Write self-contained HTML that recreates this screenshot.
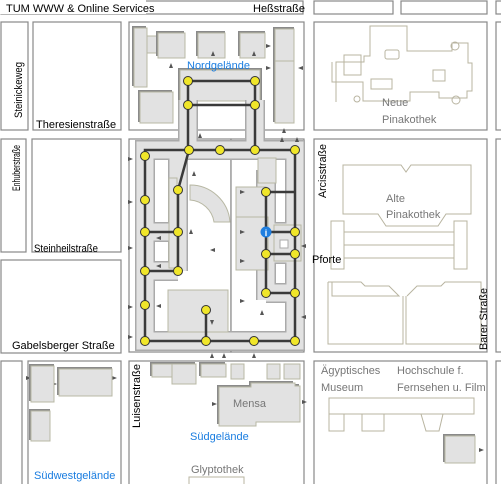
<!DOCTYPE html>
<html><head><meta charset="utf-8"><style>
html,body{margin:0;padding:0;background:#fff;}
svg{display:block;font-family:"Liberation Sans",sans-serif;}
.b{fill:#fff;stroke:#888;stroke-width:1.2}
.g{fill:#e2e2e2;stroke:#b8b8a4;stroke-width:1}
.s{fill:#8a8a8a}
.o{fill:none;stroke:#b8b4a0;stroke-width:1}
.st{font-size:11px;fill:#000}
.bl{font-size:11px;fill:#1a7de0}
.gr{font-size:11px;fill:#777}
.n{fill:#f0e62a;stroke:#333;stroke-width:1}
.a{fill:#555}
</style></head><body>
<svg width="501" height="484" viewBox="0 0 501 484">
<rect class="b" x="1" y="1" width="302" height="13"/>
<rect fill="#fff" x="0" y="0" width="146" height="14"/>
<rect class="b" x="314" y="1" width="79" height="13"/>
<rect class="b" x="401" y="1" width="86" height="13"/>
<rect class="b" x="496" y="1" width="8" height="13"/>
<rect class="b" x="1" y="22" width="27" height="108"/>
<rect class="b" x="33" y="22" width="88" height="108"/>
<rect class="b" x="129" y="22" width="175" height="108"/>
<rect class="b" x="314" y="22" width="173" height="108"/>
<rect class="b" x="496" y="22" width="8" height="108"/>
<rect class="b" x="1" y="139" width="25" height="113"/>
<rect class="b" x="32" y="139" width="89" height="113"/>
<rect class="b" x="1" y="260" width="120" height="93"/>
<rect class="b" x="129" y="139" width="102" height="213"/>
<rect class="b" x="231" y="139" width="73" height="213"/>
<rect class="b" x="314" y="139" width="173" height="213"/>
<rect class="b" x="496" y="139" width="8" height="213"/>
<rect class="b" x="1" y="361" width="21" height="125"/>
<rect class="b" x="28" y="361" width="93" height="125"/>
<rect class="b" x="129" y="361" width="175" height="125"/>
<rect class="b" x="314" y="361" width="173" height="125"/>
<rect class="b" x="496" y="361" width="8" height="125"/>

<rect class="s" x="132" y="26" width="14" height="60"/><rect class="g" x="134" y="28" width="13" height="59"/>
<rect class="g" x="147" y="36" width="10" height="17"/>
<rect class="s" x="156" y="31" width="28" height="25"/><rect class="g" x="158" y="33" width="27" height="25"/>
<rect class="s" x="196" y="31" width="29" height="25"/><rect class="g" x="198" y="33" width="27" height="25"/>
<rect class="s" x="238" y="31" width="27" height="25"/><rect class="g" x="240" y="33" width="25" height="25"/>
<rect class="s" x="273" y="27" width="21" height="95"/><rect class="g" x="275" y="29" width="19" height="94"/>
<line x1="275" y1="61" x2="294" y2="61" stroke="#b8b8a4"/>
<rect class="s" x="138" y="90" width="34" height="32"/><rect class="g" x="140" y="92" width="33" height="31"/>
<rect class="s" x="178" y="68" width="84" height="32"/><rect class="g" x="180" y="70" width="80" height="31"/>
<g fill="none" stroke-linejoin="miter">
<path d="M188 100V150M255 100V150M145 150H295V341H145ZM145 232H178M145 271H178M178 150V271M266 170V300M266 232H295M266 254H295M266 293H295M206 300V341" stroke="#aaa" stroke-width="20"/>
<path d="M188 100V150M255 100V150M145 150H295V341H145ZM145 232H178M145 271H178M178 150V271M266 170V300M266 232H295M266 254H295M266 293H295M206 300V341" stroke="#e2e2e2" stroke-width="17"/>
</g>
<rect class="g" x="236" y="187" width="30" height="45"/>
<rect class="g" x="236" y="217" width="32" height="53"/>
<rect class="g" x="168" y="290" width="60" height="42"/>
<rect class="g" x="258" y="158" width="18" height="25"/>
<rect class="g" x="274" y="225" width="27" height="36"/>
<rect fill="#fff" stroke="#aaa" x="280" y="240" width="8" height="8"/>
<path d="M190 185 A40 40 0 0 1 230 222 L214 222 A26 26 0 0 0 190 200Z" class="g"/>
<rect class="g" x="169" y="178" width="8" height="90"/>
<g stroke="#3a3a3a" stroke-width="2.5" fill="none">
<path d="M188 81H255V105H188ZM188 81V150M255 81V150"/>
<path d="M145 150H295V341H145Z"/>
<path d="M189 150L178 190V271M145 232H178M145 271H178"/>
<path d="M206 310V341"/>
<path d="M295 192H266V293M266 232H295M266 254H295M266 293H295"/>
</g>
<g class="n">
<circle cx="188" cy="81" r="4.5"/><circle cx="255" cy="81" r="4.5"/><circle cx="188" cy="105" r="4.5"/><circle cx="255" cy="105" r="4.5"/>
<circle cx="189" cy="150" r="4.5"/><circle cx="220" cy="150" r="4.5"/><circle cx="255" cy="150" r="4.5"/><circle cx="295" cy="150" r="4.5"/>
<circle cx="145" cy="156" r="4.5"/><circle cx="145" cy="200" r="4.5"/><circle cx="178" cy="190" r="4.5"/>
<circle cx="145" cy="232" r="4.5"/><circle cx="178" cy="232" r="4.5"/>
<circle cx="145" cy="271" r="4.5"/><circle cx="178" cy="271" r="4.5"/>
<circle cx="145" cy="305" r="4.5"/>
<circle cx="145" cy="341" r="4.5"/><circle cx="206" cy="341" r="4.5"/><circle cx="254" cy="341" r="4.5"/><circle cx="295" cy="341" r="4.5"/>
<circle cx="206" cy="310" r="4.5"/>
<circle cx="266" cy="192" r="4.5"/><circle cx="295" cy="232" r="4.5"/>
<circle cx="266" cy="254" r="4.5"/><circle cx="295" cy="254" r="4.5"/>
<circle cx="266" cy="293" r="4.5"/><circle cx="295" cy="293" r="4.5"/>
</g>
<circle cx="266" cy="232" r="5.5" fill="#1f7fe0"/>
<text x="266" y="236" font-size="9" fill="#fff" text-anchor="middle" font-weight="bold">i</text>
<g class="a">
<path d="M171 63l-2 5h4z"/><path d="M213 51l-2 5h4z"/><path d="M254 51l-2 5h4z"/><path d="M284 128l-2 5h4z"/>
<path d="M266 44l5 2-5 2z"/><path d="M266 66l5 2-5 2z"/><path d="M303 66l-5 2 5 2z"/>
<path d="M200 133l-2 5h4z"/><path d="M282 137l-2 5h4z"/><path d="M297 137l-2 5h4z"/>
<path d="M128 157l5 2-5 2z"/><path d="M128 200l5 2-5 2z"/><path d="M128 246l5 2-5 2z"/><path d="M128 305l5 2-5 2z"/><path d="M128 335l5 2-5 2z"/>
<path d="M194 171l-2 5h4z"/><path d="M191 229l-2 5h4z"/><path d="M156 238l5-2v4z"/><path d="M156 266l5-2v4z"/><path d="M156 306l5-2v4z"/>
<path d="M210 250l5-2v4z"/><path d="M240 190l5 2-5 2z"/><path d="M240 230l5 2-5 2z"/><path d="M240 259l5 2-5 2z"/><path d="M240 299l5 2-5 2z"/>
<path d="M301 246l5-2v4z"/><path d="M301 317l5-2v4z"/><path d="M262 310l-2 5h4z"/><path d="M212 325l-2-5h4z"/>
<path d="M212 353l-2 5h4z"/><path d="M224 353l-2 5h4z"/><path d="M254 353l-2 5h4z"/>
<path d="M26 376l5 2-5 2z"/><path d="M52 382l5 2-5 2z"/><path d="M117 378l-5-2v4z"/>
<path d="M212 402l5 2-5 2z"/><path d="M307 402l-5-2v4z"/><path d="M484 450l-5-2v4z"/>
</g>
<rect class="s" x="29" y="364" width="25" height="37"/><rect class="g" x="31" y="366" width="23" height="36"/>
<rect class="s" x="57" y="367" width="55" height="28"/><rect class="g" x="59" y="369" width="53" height="27"/>
<rect class="s" x="29" y="409" width="21" height="31"/><rect class="g" x="31" y="411" width="19" height="30"/>
<rect class="s" x="150" y="362" width="45" height="14"/><rect class="g" x="152" y="364" width="20" height="13"/><rect class="g" x="172" y="364" width="24" height="20"/>
<rect class="s" x="199" y="362" width="26" height="14"/><rect class="g" x="201" y="364" width="25" height="13"/>
<rect class="g" x="231" y="364" width="13" height="15"/><rect class="g" x="267" y="364" width="13" height="15"/><rect class="g" x="284" y="364" width="16" height="15"/>
<path class="s" d="M217 385h32v-4h44v3h6v36h-44v4h-38z"/><path class="g" d="M219 387h32v-4h44v3h5v36h-44v4h-37z"/>
<rect class="s" x="443" y="434" width="32" height="28"/><rect class="g" x="445" y="436" width="30" height="27"/>
<g class="o"><rect x="329" y="398" width="145" height="16"/><rect x="329" y="414" width="15" height="17"/><rect x="362" y="414" width="22" height="17"/><path d="M421 414l5 17h13l4-17"/><rect x="189" y="477" width="55" height="10"/></g>
<g class="o">
<path d="M336 102V62h28V56h6V26h37v25h45V43h16v20h4v28h-5V98h-28v-6h-29v9H363V82h-31V62"/>
<rect x="385" y="50" width="14" height="9" rx="2"/><rect x="371" y="79" width="21" height="10"/><rect x="433" y="70" width="12" height="11"/>
<circle cx="455" cy="46" r="4"/><circle cx="456" cy="100" r="4"/><circle cx="357" cy="99" r="3"/>
<rect x="344" y="55" width="17" height="20"/>
<path d="M343 214V165h58l5 7 5-7h60v49h-25l-8 12h-52l-8-12z"/>
<path d="M331 221h13v48h-13zM454 221h13v48h-13zM344 232h110M344 245h110M344 258h110"/>
<path d="M328 282h33l4 4h24l10 10h-67v-14zM328 282v62h75V296"/>
<path d="M406 296v48h75v-62h-36l-4 4h-24l-10 10"/>
</g>
<text class="st" x="6" y="12">TUM WWW &amp; Online Services</text>
<text class="st" x="253" y="12">Heßstraße</text>
<text class="st" x="22" y="118" transform="rotate(-90 22 118)" textLength="56" lengthAdjust="spacingAndGlyphs">Steinickeweg</text>
<text class="st" x="36" y="128">Theresienstraße</text>
<text class="st" x="20" y="191" transform="rotate(-90 20 191)" textLength="46" lengthAdjust="spacingAndGlyphs">Enhuberstraße</text>
<text class="st" x="34" y="252" textLength="64" lengthAdjust="spacingAndGlyphs">Steinheilstraße</text>
<text class="st" x="12" y="349">Gabelsberger Straße</text>
<text class="st" x="140" y="428" transform="rotate(-90 140 428)" textLength="64" lengthAdjust="spacingAndGlyphs">Luisenstraße</text>
<text class="st" x="326" y="198" transform="rotate(-90 326 198)" textLength="54" lengthAdjust="spacingAndGlyphs">Arcisstraße</text>
<text class="st" x="487" y="350" transform="rotate(-90 487 350)" textLength="62" lengthAdjust="spacingAndGlyphs">Barer Straße</text>
<text class="st" x="312" y="263">Pforte</text>
<text class="bl" x="187" y="69">Nordgelände</text>
<text class="bl" x="190" y="440">Südgelände</text>
<text class="bl" x="34" y="479">Südwestgelände</text>
<text class="gr" x="382" y="106">Neue</text>
<text class="gr" x="382" y="123">Pinakothek</text>
<text class="gr" x="386" y="202">Alte</text>
<text class="gr" x="386" y="218">Pinakothek</text>
<text class="gr" x="233" y="407">Mensa</text>
<text class="gr" x="191" y="473">Glyptothek</text>
<text class="gr" x="321" y="374">Ägyptisches</text>
<text class="gr" x="321" y="391">Museum</text>
<text class="gr" x="397" y="374">Hochschule f.</text>
<text class="gr" x="397" y="391">Fernsehen u. Film</text>
</svg>
</body></html>
